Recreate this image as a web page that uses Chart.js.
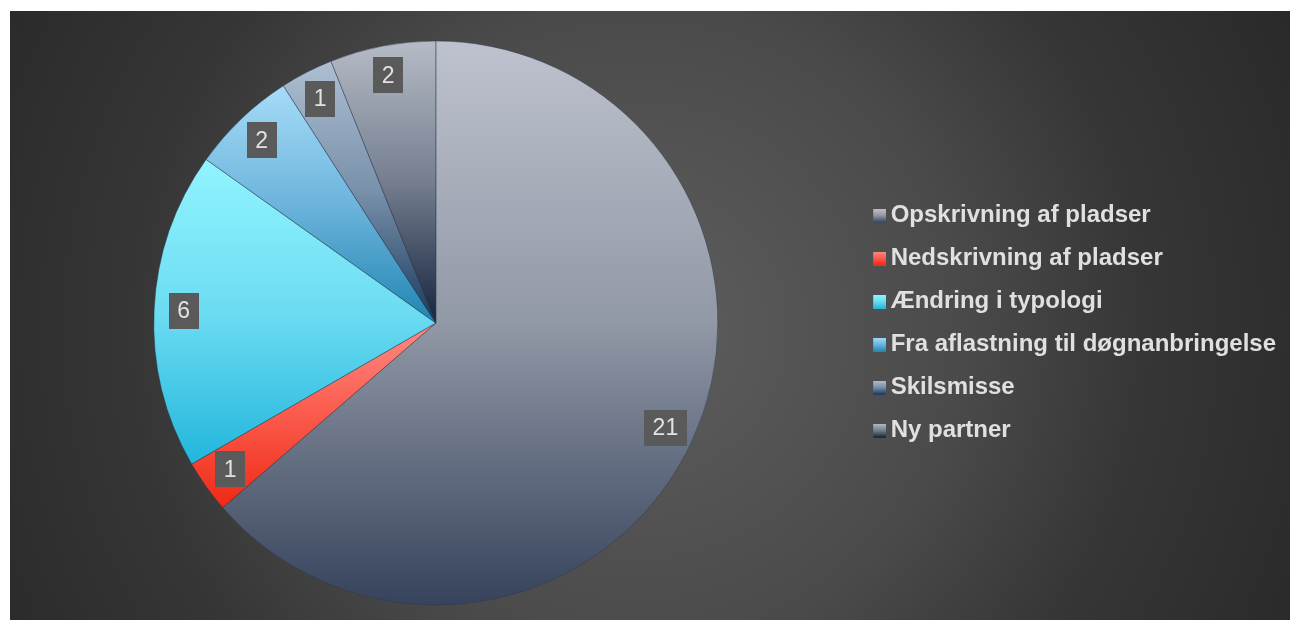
<!DOCTYPE html>
<html>
<head>
<meta charset="utf-8">
<script src="https://cdn.jsdelivr.net/npm/chart.js@4/dist/chart.umd.min.js"></script>
<style>
  html, body { margin: 0; padding: 0; background: #ffffff; }
  #wrap { width: 1293px; height: 627px; }
</style>
</head>
<body>
<div id="wrap"><canvas id="c" width="1293" height="627"></canvas></div>
<script>
const categories = [
  'Opskrivning af pladser',
  'Nedskrivning af pladser',
  'Ændring i typologi',
  'Fra aflastning til døgnanbringelse',
  'Skilsmisse',
  'Ny partner'
];
const values = [21, 1, 6, 2, 1, 2];

// gradient stops per slice: top, middle, bottom
const sliceStops = [
  ['#bec2ce', '#9198a6', '#36435c'],
  ['#ff8a84', '#fb5a4c', '#ee2a14'],
  ['#92f4ff', '#6cdcf2', '#22b6dc'],
  ['#a6dcf8', '#6cb4dc', '#1f86b2'],
  ['#adbfd2', '#7890aa', '#173a5c'],
  ['#b6bcc6', '#747e8f', '#17243e']
];

const FONT = "'Liberation Sans', Arial, sans-serif";
const PIE_RADIUS = 282;

function sliceGradient(ctx) {
  const chart = ctx.chart;
  const area = chart.chartArea;
  if (!area) return sliceStops[ctx.dataIndex][1];
  const cx = (area.left + area.right) / 2;
  const cy = (area.top + area.bottom) / 2;
  const data = chart.data.datasets[0].data;
  const total = data.reduce((a, b) => a + b, 0);
  let before = 0;
  for (let k = 0; k < ctx.dataIndex; k++) before += data[k];
  const a0 = -Math.PI / 2 + 2 * Math.PI * before / total;
  const a1 = a0 + 2 * Math.PI * data[ctx.dataIndex] / total;
  let minY = cy, maxY = cy;
  const pts = [a0, a1];
  for (let q = -Math.PI / 2; q <= 2 * Math.PI; q += Math.PI / 2) {
    if (q > a0 && q < a1) pts.push(q);
  }
  pts.forEach(a => {
    const y = cy + PIE_RADIUS * Math.sin(a);
    minY = Math.min(minY, y);
    maxY = Math.max(maxY, y);
  });
  const st = sliceStops[ctx.dataIndex];
  const g = chart.ctx.createLinearGradient(0, minY, 0, maxY);
  g.addColorStop(0, st[0]);
  g.addColorStop(0.5, st[1]);
  g.addColorStop(1, st[2]);
  return g;
}

function legendSwatch(i) {
  const cv = document.createElement('canvas');
  cv.width = 19; cv.height = 14;
  const c = cv.getContext('2d');
  const st = sliceStops[i];
  const g = c.createLinearGradient(0, 0, 0, 14);
  g.addColorStop(0, st[0]);
  g.addColorStop(0.5, st[1]);
  g.addColorStop(1, st[2]);
  c.fillStyle = g;
  c.fillRect(6, 0, 13, 14);
  return cv;
}
const swatches = categories.map((_, i) => legendSwatch(i));

const backgroundPlugin = {
  id: 'bg',
  beforeDraw(chart) {
    const c = chart.ctx;
    c.save();
    c.fillStyle = '#ffffff';
    c.fillRect(0, 0, chart.width, chart.height);
    const g = c.createRadialGradient(640, 330, 0, 640, 330, 720);
    g.addColorStop(0, '#5e5e5e');
    g.addColorStop(0.45, '#4a4a4a');
    g.addColorStop(0.7, '#363636');
    g.addColorStop(1, '#2a2a2a');
    c.fillStyle = g;
    c.fillRect(10, 11, 1280, 609);
    c.restore();
  }
};

const labelPlugin = {
  id: 'sliceLabels',
  afterDatasetsDraw(chart) {
    const c = chart.ctx;
    const meta = chart.getDatasetMeta(0);
    const data = chart.data.datasets[0].data;
    c.save();
    c.font = '23px ' + FONT;
    c.textAlign = 'center';
    c.textBaseline = 'middle';
    meta.data.forEach((arc, i) => {
      const p = arc.getProps(['x', 'y', 'startAngle', 'endAngle', 'outerRadius'], true);
      const mid = (p.startAngle + p.endAngle) / 2;
      const r = p.outerRadius * 0.895;
      const x = p.x + Math.cos(mid) * r;
      const y = p.y + Math.sin(mid) * r;
      const txt = String(data[i]);
      const w = c.measureText(txt).width + 17;
      const h = 36;
      c.fillStyle = '#5a5a5a';
      c.fillRect(Math.round(x - w / 2), Math.round(y - h / 2), Math.round(w), h);
      c.fillStyle = '#e2e2e2';
      c.fillText(txt, x, y + 1);
    });
    c.restore();
  }
};

new Chart(document.getElementById('c'), {
  type: 'pie',
  data: {
    labels: categories,
    datasets: [{
      data: values,
      backgroundColor: sliceGradient,
      borderColor: 'rgba(40,55,75,0.45)',
      borderWidth: 1,
      radius: PIE_RADIUS
    }]
  },
  options: {
    responsive: false,
    animation: false,
    events: [],
    layout: { padding: { left: 16, right: 7, top: 20, bottom: 1 } },
    plugins: {
      tooltip: { enabled: false },
      legend: {
        position: 'right',
        labels: {
          color: '#e0e0e0',
          font: { family: FONT, size: 24, weight: 'bold' },
          padding: 19,
          usePointStyle: true,
          boxWidth: 4,
          boxHeight: 14,
          generateLabels(chart) {
            return chart.data.labels.map((t, i) => ({
              text: t,
              fillStyle: sliceStops[i][1],
              strokeStyle: 'transparent',
              lineWidth: 0,
              fontColor: '#e0e0e0',
              pointStyle: swatches[i],
              hidden: false,
              index: i
            }));
          }
        }
      }
    }
  },
  plugins: [backgroundPlugin, labelPlugin]
});
</script>
</body>
</html>
